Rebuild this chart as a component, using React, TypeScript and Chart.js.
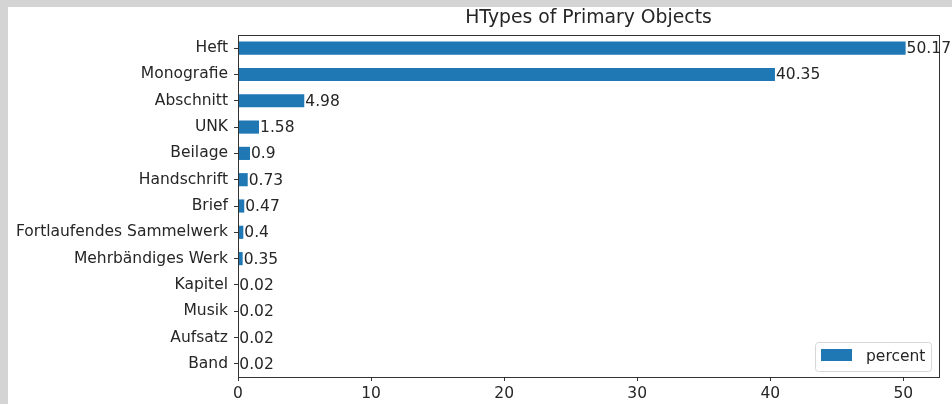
import React, { useEffect, useRef } from "react";
import { Chart, registerables } from "chart.js";

Chart.register(...registerables);

const categories = [
  "Heft",
  "Monografie",
  "Abschnitt",
  "UNK",
  "Beilage",
  "Handschrift",
  "Brief",
  "Fortlaufendes Sammelwerk",
  "Mehrbändiges Werk",
  "Kapitel",
  "Musik",
  "Aufsatz",
  "Band",
];
const percentValues = [50.17, 40.35, 4.98, 1.58, 0.9, 0.73, 0.47, 0.4, 0.35, 0.02, 0.02, 0.02, 0.02];
const xTicks = [0, 10, 20, 30, 40, 50];
const seriesLabel = "percent";
const chartTitle = "HTypes of Primary Objects";

const FONT = "'DejaVu Sans', sans-serif";
const TEXT = "#262626";
const BAR = "#1f77b4";
const SPINE = "#333333";
const FS = 15.5;

const frameAndLabels = {
  id: "frameAndLabels",
  afterDatasetsDraw(chart: any) {
    const { ctx, chartArea } = chart;
    ctx.save();
    // spines
    ctx.strokeStyle = SPINE;
    ctx.lineWidth = 1;
    ctx.strokeRect(
      Math.round(chartArea.left) + 0.5,
      Math.round(chartArea.top) + 0.5,
      Math.round(chartArea.right - chartArea.left),
      Math.round(chartArea.bottom - chartArea.top)
    );
    // title centred over the axes
    ctx.fillStyle = TEXT;
    ctx.font = `18.8px ${FONT}`;
    ctx.textAlign = "center";
    ctx.textBaseline = "middle";
    ctx.fillText(chartTitle, (chartArea.left + chartArea.right) / 2, chartArea.top - 17);
    // value labels
    const meta = chart.getDatasetMeta(0);
    ctx.font = `${FS}px ${FONT}`;
    ctx.textAlign = "left";
    ctx.textBaseline = "middle";
    meta.data.forEach((el: any, i: number) => {
      const v = chart.data.datasets[0].data[i];
      ctx.fillText(String(v), el.x + 1, el.y + 1);
    });
    // legend
    const w = 116, h = 29;
    const x = chartArea.right - 8 - w;
    const y = chartArea.bottom - 6 - h;
    ctx.fillStyle = "rgba(255,255,255,0.8)";
    ctx.strokeStyle = "#d6d6d6";
    ctx.lineWidth = 1;
    ctx.beginPath();
    (ctx as any).roundRect(x + 0.5, y + 0.5, w, h, 3);
    ctx.fill();
    ctx.stroke();
    ctx.fillStyle = BAR;
    ctx.fillRect(x + 6, y + 7, 31, 12);
    ctx.fillStyle = TEXT;
    ctx.textBaseline = "middle";
    ctx.fillText(chart.data.datasets[0].label, x + 51, y + 15);
    ctx.restore();
  },
};

export default function App() {
  const ref = useRef<HTMLCanvasElement>(null);
  useEffect(() => {
    if (!ref.current) return;
    const chart = new Chart(ref.current, {
      type: "bar",
      data: {
        labels: categories,
        datasets: [
          {
            label: seriesLabel,
            data: percentValues,
            backgroundColor: BAR,
            borderWidth: 0,
            categoryPercentage: 1,
            barPercentage: 0.5,
          },
        ],
      },
      options: {
        indexAxis: "y",
        animation: false,
        responsive: false,
        layout: { padding: { left: 0, right: 13, top: 28, bottom: 0 } },
        plugins: {
          legend: { display: false },
          tooltip: { enabled: false },
          title: { display: false },
        },
        scales: {
          x: {
            type: "linear",
            min: 0,
            max: 50.17 * 1.05,
            afterBuildTicks: (s: any) => {
              s.ticks = xTicks.map((v) => ({ value: v }));
            },
            afterFit: (s: any) => {
              s.height = 27;
            },
            grid: { drawOnChartArea: false, drawTicks: true, tickLength: 4, color: SPINE },
            border: { display: true, color: SPINE },
            ticks: {
              color: TEXT,
              font: { family: FONT, size: FS },
              padding: 4,
              maxRotation: 0,
            },
          },
          y: {
            type: "category",
            offset: true,
            afterFit: (s: any) => {
              s.width = 230;
            },
            grid: { drawOnChartArea: false, drawTicks: true, tickLength: 4, color: SPINE, offset: false },
            border: { display: true, color: SPINE },
            ticks: {
              color: TEXT,
              font: { family: FONT, size: FS },
              padding: 6,
              autoSkip: false,
            },
          },
        },
      },
      plugins: [frameAndLabels],
    });
    return () => chart.destroy();
  }, []);

  return (
    <div style={{ position: "fixed", inset: 0, background: "#d4d4d4" }}>
      <div
        style={{
          position: "absolute",
          left: 8,
          top: 7,
          width: 944,
          height: 397,
          background: "#ffffff",
        }}
      >
        <canvas ref={ref} width={944} height={397} style={{ display: "block" }} />
      </div>
    </div>
  );
}
